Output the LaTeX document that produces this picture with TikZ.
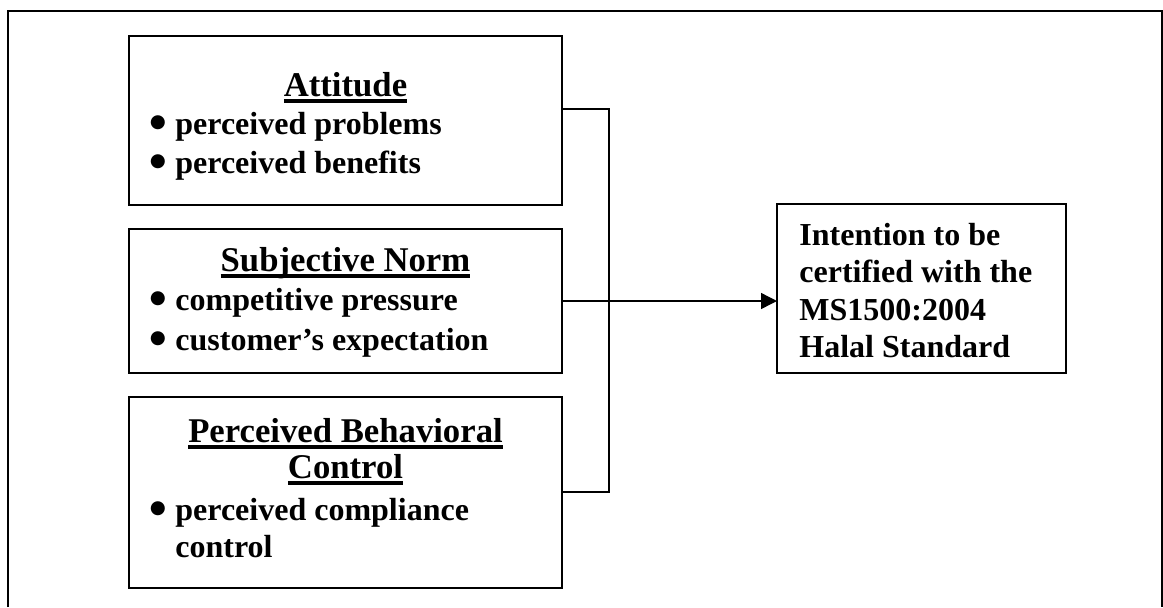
\documentclass[tikz,border=0pt]{standalone}
\usepackage{fontspec}
\setmainfont{Liberation Serif}
\newfontfamily\dejavu{DejaVu Sans}
\usetikzlibrary{arrows.meta}
\newcommand\myul[1]{\setbox0\hbox{#1}\rlap{\rule[-3.6pt]{\wd0}{1.9pt}}\box0}
\begin{document}
\begin{tikzpicture}[x=0.5pt,y=-0.5pt,
  frame/.style={line width=0.8pt},
  box/.style={draw,line width=0.8pt,inner sep=0pt,outer sep=0pt},
  title/.style={font=\fontsize{17.35}{20}\selectfont\bfseries,anchor=base,inner sep=0pt},
  item/.style={font=\fontsize{16}{19}\selectfont\bfseries,anchor=base west,inner sep=0pt},
  dot/.style={font=\dejavu\fontsize{9.2}{10}\selectfont,anchor=base,inner sep=0pt,yshift=3.3pt},
  conn/.style={line width=0.7pt}]
\useasboundingbox (0,0) rectangle (1163,607);
% outer frame (open at the bottom)
\draw[frame] (8,607) -- (8,11) -- (1162,11) -- (1162,607);
% boxes
\node[box,minimum width=216.5pt,minimum height=84.5pt] (b1) at (345.5,120.5) {};
\node[box,minimum width=216.5pt,minimum height=72pt] (b2) at (345.5,301) {};
\node[box,minimum width=216.5pt,minimum height=95.5pt] (b3) at (345.5,492.5) {};
\node[box,minimum width=144.5pt,minimum height=84.5pt] (t) at (921.5,288.5) {};
% box 1 text
\node[title] (a0) at (345.5,96) {\myul{Attitude}};
\node[dot] (a1d) at (158,134) {●};
\node[item] (a1) at (175,134) {perceived problems};
\node[dot] (a2d) at (158,173) {●};
\node[item] (a2) at (175,173) {perceived benefits};
% box 2 text
\node[title] (s0) at (345.5,271) {\myul{Subjective Norm}};
\node[dot] (s1d) at (158,310) {●};
\node[item] (s1) at (175,310) {competitive pressure};
\node[dot] (s2d) at (158,350) {●};
\node[item] (s2) at (175,350) {customer’s expectation};
% box 3 text
\node[title] (p0) at (345.5,442) {\myul{Perceived Behavioral}};
\node[title] (p1) at (345.5,478) {\myul{Control}};
\node[dot] (p2d) at (158,520) {●};
\node[item] (p2) at (175,520) {perceived compliance};
\node[item] (p3) at (175,557) {control};
% target text
\node[item] (t1) at (799,245) {Intention to be};
\node[item] (t2) at (799,282) {certified with the};
\node[item] (t3) at (799,320) {MS1500:2004};
\node[item] (t4) at (799,357) {Halal Standard};
% connectors
\coordinate (j1) at (609,109);
\coordinate (j2) at (609,492);
\draw[conn] (j1 -| b1.east) -- (j1) -- (j2) -- (j2 -| b3.east);
\draw[conn,-{Triangle[length=8pt,width=8pt]}] (b2.east) -- (b2.east -| t.west);
\end{tikzpicture}
\end{document}
